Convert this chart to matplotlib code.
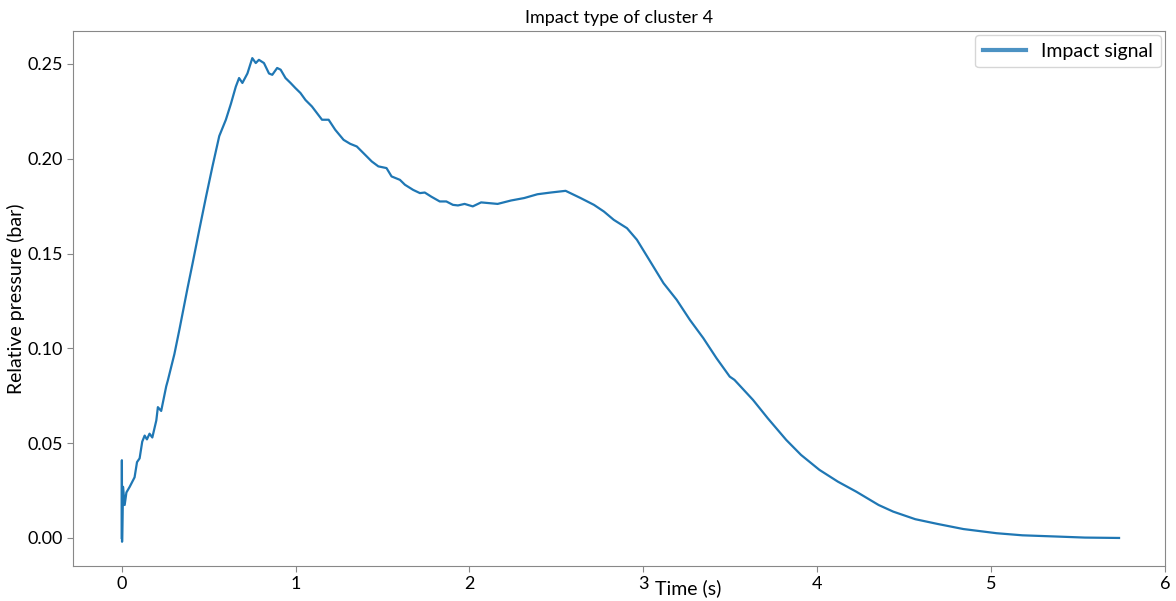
import matplotlib.pyplot as plt

plt.rcParams['font.family'] = ['Lato', 'DejaVu Sans']

# Impact signal (time [s], relative pressure [bar])
time_s = [0.000, 0.001, 0.002, 0.0074, 0.017, 0.027, 0.046, 0.074, 0.088, 0.103,
          0.118, 0.132, 0.145, 0.160, 0.176, 0.199, 0.208, 0.227, 0.256, 0.265,
          0.303, 0.332, 0.379, 0.408, 0.446, 0.485, 0.522, 0.561, 0.599, 0.628,
          0.656, 0.675, 0.694, 0.723, 0.751, 0.771, 0.789, 0.818, 0.847, 0.866,
          0.894, 0.914, 0.942, 0.971, 0.999, 1.028, 1.057, 1.094, 1.123, 1.152,
          1.190, 1.228, 1.276, 1.314, 1.352, 1.400, 1.438, 1.476, 1.523, 1.552,
          1.600, 1.629, 1.676, 1.715, 1.743, 1.781, 1.829, 1.867, 1.905, 1.934,
          1.972, 2.019, 2.067, 2.162, 2.239, 2.315, 2.391, 2.467, 2.553, 2.639,
          2.716, 2.773, 2.830, 2.906, 2.963, 3.040, 3.116, 3.192, 3.268, 3.345,
          3.421, 3.497, 3.524, 3.631, 3.716, 3.822, 3.907, 4.013, 4.119, 4.225,
          4.353, 4.437, 4.564, 4.692, 4.841, 5.032, 5.180, 5.393, 5.540, 5.736]
pressure_bar = [0.000, 0.041, -0.002, 0.027, 0.0174, 0.024, 0.027, 0.032, 0.040, 0.042,
                0.0508, 0.054, 0.052, 0.055, 0.053, 0.062, 0.069, 0.067, 0.080, 0.083,
                0.097, 0.110, 0.132, 0.145, 0.1625, 0.180, 0.196, 0.212, 0.2206, 0.229,
                0.238, 0.2426, 0.240, 0.245, 0.2531, 0.2505, 0.2522, 0.2505, 0.245, 0.2443,
                0.2479, 0.247, 0.2426, 0.240, 0.2373, 0.2347, 0.231, 0.2276, 0.2241, 0.2206,
                0.2206, 0.2153, 0.210, 0.2079, 0.2065, 0.2021, 0.1986, 0.196, 0.1951, 0.1907,
                0.1889, 0.1863, 0.1836, 0.1819, 0.1822, 0.180, 0.1775, 0.1775, 0.1757, 0.1754,
                0.1762, 0.1749, 0.177, 0.1762, 0.178, 0.1793, 0.1813, 0.1822, 0.1831, 0.1793,
                0.1757, 0.1722, 0.1678, 0.1634, 0.1573, 0.1458, 0.1344, 0.1256, 0.115, 0.1054,
                0.0948, 0.0851, 0.0834, 0.0728, 0.0631, 0.0517, 0.0438, 0.0359, 0.0297, 0.0244,
                0.0174, 0.0139, 0.0099, 0.0074, 0.0047, 0.0025, 0.0014, 0.0007, 0.0002, 0.0]

x_ticks = [0, 1, 2, 3, 4, 5, 6]
y_ticks = [0.00, 0.05, 0.10, 0.15, 0.20, 0.25]

fig = plt.figure(figsize=(11.76, 6.01), dpi=100)
ax = fig.add_axes([0.0621, 0.0582, 0.9285, 0.8902])

ax.plot(time_s, pressure_bar, color="#1f77b4", linewidth=1.6, label="Impact signal")

ax.set_xlim(-0.28, 6.0)
ax.set_ylim(-0.0148, 0.2674)
ax.set_xticks(x_ticks)
ax.set_yticks(y_ticks)
ax.set_yticklabels(["%.2f" % v for v in y_ticks])
ax.tick_params(labelsize=13, color="#888888", length=4, pad=3)
for s in ax.spines.values():
    s.set_color("#888888")

ax.set_title("Impact type of cluster 4", fontsize=13, pad=6)
ax.set_ylabel("Relative pressure (bar)", fontsize=14)
ax.set_xlabel("Time (s)", fontsize=14)
# label positions as in the original figure (x label sits right next to the "3" tick)
ax.xaxis.set_label_coords(0.563, -0.024)
ax.yaxis.set_label_coords(-0.044, 0.5)

leg = ax.legend(loc="upper right", fontsize=14, handlelength=2.2, borderaxespad=0.2)
for line in leg.get_lines():
    line.set_linewidth(3)
    line.set_alpha(0.8)

fig.savefig("out.png", dpi=100)
